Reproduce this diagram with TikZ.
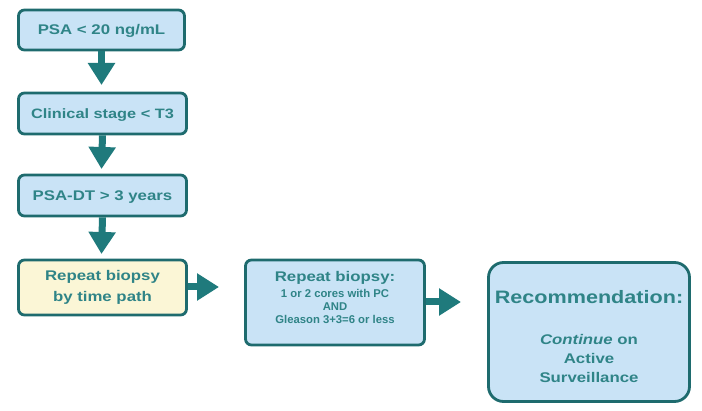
\documentclass[tikz,border=0pt]{standalone}
\usepackage{fontspec}
\setmainfont{Liberation Sans}[FakeStretch=1.2]
\newfontfamily\plainsans{Liberation Sans}
\usetikzlibrary{arrows.meta}
\definecolor{edgeteal}{HTML}{1E6B6E}
\definecolor{txtteal}{HTML}{2F8487}
\definecolor{boxblue}{HTML}{C9E3F6}
\definecolor{boxyellow}{HTML}{FBF6D6}
\definecolor{arrteal}{HTML}{1F7A7C}
\tikzset{
  flowbox/.style={draw=edgeteal, line width=2.8pt, fill=boxblue, rounded corners=6pt,
    text=txtteal, font=\bfseries\fontsize{14}{21}\selectfont, align=center, inner sep=0pt},
  oneline/.style={text height=10pt, text depth=0pt},
  boxtext/.style={text=txtteal, align=center, inner sep=0pt},
  bigarrow/.style={draw=arrteal, line width=7pt, -{Triangle[width=26pt,length=22pt]}, arrteal},
}
\begin{document}
\begin{tikzpicture}[x=1pt,y=-1pt]
\useasboundingbox (0,0) rectangle (702,411);
\node[flowbox, oneline, minimum width=166pt, minimum height=40pt] (b1) at (101.5,30) {PSA < 20 ng/mL};
\node[flowbox, oneline, minimum width=168pt, minimum height=41pt, font=\bfseries\fontsize{13.6}{21}\selectfont] (b2) at (102.5,113.5) {Clinical stage < T3};
\node[flowbox, oneline, minimum width=168pt, minimum height=41pt] (b3) at (102.5,195.5) {PSA-DT > 3 years};
\node[flowbox, fill=boxyellow, minimum width=168pt, minimum height=55pt] (b4) at (102.5,287.5) {Repeat biopsy\\by time path};
\node[flowbox, minimum width=179pt, minimum height=85pt] (b5) at (335,302.5) {};
\node[boxtext, font=\bfseries\fontsize{14}{13}\selectfont] (b5t) at (335,297)
  {Repeat biopsy:\\[3pt]
   {\plainsans\fontsize{11.3}{13}\selectfont 1 or 2 cores with PC}\\
   {\plainsans\fontsize{11.3}{13}\selectfont AND}\\
   {\plainsans\fontsize{11.3}{13}\selectfont Gleason 3+3=6 or less}};
\node[flowbox, rounded corners=15pt, minimum width=201pt, minimum height=139pt] (b6) at (589,332) {};
\node[boxtext, font=\bfseries\fontsize{14}{19}\selectfont] (b6t) at (589,337)
  {{\fontsize{18}{19}\selectfont Recommendation:}\\[22pt]
   \textit{Continue} on\\Active\\Surveillance};
\coordinate (t1) at (101.5,85);
\coordinate (t2) at (101.5,169);
\coordinate (t3) at (101.5,254);
\coordinate (t4) at (219,287);
\coordinate (t5) at (461,302);
\draw[bigarrow] (b1.south) -- (t1);
\draw[bigarrow] (b2.south) -- (t2);
\draw[bigarrow] (b3.south) -- (t3);
\draw[bigarrow] (b4.east |- t4) -- (t4);
\draw[bigarrow] (b5.east |- t5) -- (t5);
\end{tikzpicture}
\end{document}
